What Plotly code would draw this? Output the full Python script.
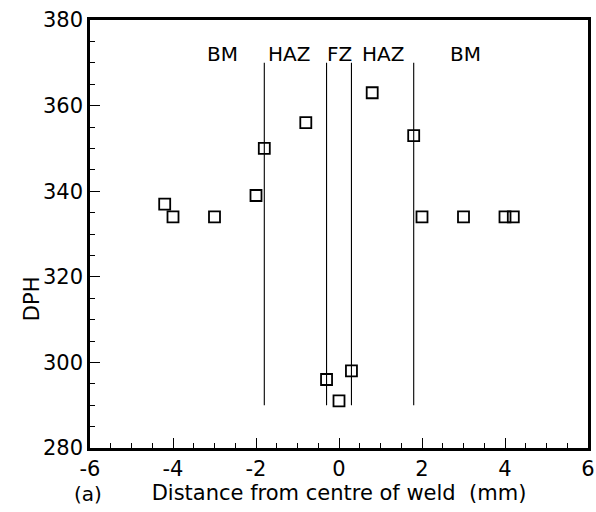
import plotly.graph_objects as go

# Data (hardness DPH vs distance from centre of weld, mm)
dist = [-4.2, -4.0, -3.0, -2.0, -1.8, -0.8, -0.3, 0.0, 0.3, 0.8, 1.8, 2.0, 3.0, 4.0, 4.2]
dph = [337, 334, 334, 339, 350, 356, 296, 291, 298, 363, 353, 334, 334, 334, 334]

# Zone boundaries
boundaries = [-1.8, -0.3, 0.3, 1.8]
boundary_range = [290, 370]

# Zone labels
zone_labels = ["BM", "HAZ", "FZ", "HAZ", "BM"]
zone_x = [-2.8, -1.2, 0.0, 1.05, 3.05]
zone_y = 372

x_ticks = [-6, -4, -2, 0, 2, 4, 6]
y_ticks = [280, 300, 320, 340, 360, 380]

FONT = "DejaVu Sans"

fig = go.Figure()

for b in boundaries:
    fig.add_trace(go.Scatter(x=[b, b], y=boundary_range, mode="lines",
                             line=dict(color="black", width=1.1),
                             showlegend=False, hoverinfo="skip"))

fig.add_trace(go.Scatter(x=dist, y=dph, mode="markers",
                         marker=dict(symbol="square-open", size=11, color="black",
                                     line=dict(width=1.8, color="black")),
                         showlegend=False))

for lab, xv in zip(zone_labels, zone_x):
    fig.add_annotation(x=xv, y=zone_y, text=lab, showarrow=False,
                       font=dict(family=FONT, size=20, color="black"))

fig.add_annotation(xref="paper", yref="paper", x=-0.005, y=-0.108, text="(a)",
                   showarrow=False, xanchor="center", yanchor="middle",
                   font=dict(family=FONT, size=20, color="black"))

fig.add_annotation(xref="paper", yref="paper", x=-0.1165, y=0.35, text="DPH",
                   textangle=-90, showarrow=False, xanchor="center", yanchor="middle",
                   font=dict(family=FONT, size=21, color="black"))

fig.update_xaxes(range=[-6, 6], tickvals=x_ticks, ticktext=[str(v) for v in x_ticks],
                 ticks="inside", ticklen=10, tickwidth=1.2, tickcolor="black",
                 minor=dict(dtick=0.5, ticks="inside", ticklen=5, tickcolor="black", tickwidth=1),
                 showline=True, linewidth=2.5, linecolor="black", mirror=True,
                 showgrid=False, zeroline=False, automargin=False,
                 tickfont=dict(family=FONT, size=21, color="black"),
                 title=dict(text="Distance from centre of weld  (mm)", standoff=6,
                            font=dict(family=FONT, size=21, color="black")))
fig.update_yaxes(range=[280, 380], tickvals=y_ticks,
                 ticks="inside", ticklen=10, tickwidth=1.2, tickcolor="black",
                 minor=dict(dtick=5, ticks="inside", ticklen=5, tickcolor="black", tickwidth=1),
                 showline=True, linewidth=2.5, linecolor="black", mirror=True,
                 showgrid=False, zeroline=False, automargin=False,
                 tickfont=dict(family=FONT, size=21, color="black"))

fig.update_layout(width=596, height=512, plot_bgcolor="white", paper_bgcolor="white",
                  margin=dict(l=90, r=8, t=20, b=64))

fig.write_html("out.html")
